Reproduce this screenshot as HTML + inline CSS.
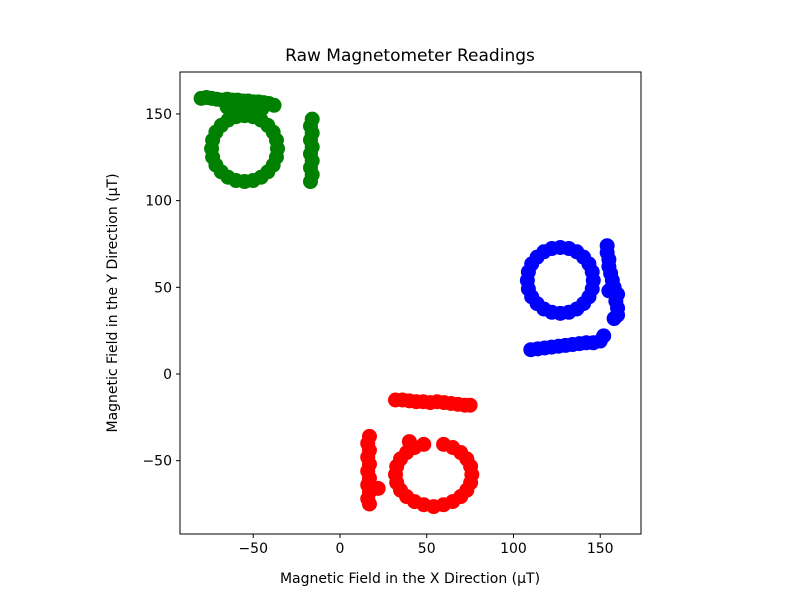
<!DOCTYPE html>
<html><head><meta charset="utf-8"><style>
html,body{margin:0;padding:0;background:#fff;}
svg text{font-family:"DejaVu Sans","Liberation Sans",sans-serif;fill:#000;}
</style></head><body>
<svg id="chart" width="800" height="600" xmlns="http://www.w3.org/2000/svg">
<rect width="800" height="600" fill="#fff"/>
<g id="marks"></g>
<g id="axes"></g>
</svg>
<script>
const xTicks = [-50, 0, 50, 100, 150];
const yTicks = [-50, 0, 50, 100, 150];
const greenX = [-36,-36.6,-38.5,-41.6,-45.5,-50.1,-55,-59.9,-64.5,-68.4,-71.5,-73.4,-74,-73.4,-71.5,-68.4,-64.5,-59.9,-55,-50.1,-45.5,-41.6,-38.5,-36.6,
 -80,-77,-74,-71,-68,-65,-62,-59,-56,-53,-50,-47,-44,-41,-38,-65,-60,-55,-50,-45,
 -16,-17,-16,-17,-16,-17,-16,-17,-16,-17];
const greenY = [130,134.9,139.5,143.4,146.5,148.4,149,148.4,146.5,143.4,139.5,134.9,130,125.1,120.5,116.6,113.5,111.6,111,111.6,113.5,116.6,120.5,125.1,
 159,159.5,159,158.5,158,158.5,158,158,157.5,157.5,157,157,156.5,156,155,154,153,153,153,153,
 147,143,139,135,131,127,123,119,115,111];
const blueX = [146,145.4,143.5,140.4,136.5,131.9,127,122.1,117.5,113.6,110.5,108.6,108,108.6,110.5,113.6,117.5,122.1,127,131.9,136.5,140.4,143.5,145.4,
 110,114,118,122,126,130,134,138,142,146,150,152,
 154,154,155,155,156,157,158,160,159,160,160,158,155];
const blueY = [54,58.9,63.5,67.4,70.5,72.4,73,72.4,70.5,67.4,63.5,58.9,54,49.1,44.5,40.6,37.5,35.6,35,35.6,37.5,40.6,44.5,49.1,
 14,14.5,15,15.5,16,16.5,17,17.5,18,18,19,22,
 74,70,66,62,58,54,50,46,42,38,34,32,48];
const redX = [76,75.3,73.1,69.6,65,59.7,48.3,43,38.4,34.9,32.7,32,32.7,34.9,38.4,43,48.3,54,59.7,65,69.6,73.1,75.3,40,
 32,36,40,44,48,52,56,60,64,68,72,75,
 17,16,17,16,17,16,17,16,17,16,17,22];
const redY = [-58,-53.3,-49,-45.3,-42.4,-40.6,-40.6,-42.4,-45.3,-49,-53.3,-58,-62.7,-67,-70.7,-73.6,-75.4,-76.5,-75.4,-73.6,-70.7,-67,-62.7,-39,
 -15,-15,-15.5,-16,-16,-16.5,-16,-16.5,-17,-17.5,-18,-18,
 -36,-40,-44,-48,-52,-56,-60,-64,-68,-72,-75,-66];

const L=180,R=641,T=72,B=534;
const xMin=-92.2,xMax=173.5,yMin=-92.3,yMax=174.2;
function sx(v){return L+(v-xMin)/(xMax-xMin)*(R-L);}
function sy(v){return B-(v-yMin)/(yMax-yMin)*(B-T);}
const NS="http://www.w3.org/2000/svg";
function mk(tag,attrs,parent){const e=document.createElementNS(NS,tag);for(const k in attrs)e.setAttribute(k,attrs[k]);parent.appendChild(e);return e;}
const marks=document.getElementById('marks');
function series(xs,ys,color,name){
  const g=mk('g',{},marks);
  
  
  for(let i=0;i<xs.length;i++){
    const c=mk('circle',{cx:sx(xs[i]),cy:sy(ys[i]),r:7.5,fill:color},g);
    
    
  }
}
series(greenX,greenY,'#008000','green');
series(blueX,blueY,'#0000ff','blue');
series(redX,redY,'#ff0000','red');

const axes=document.getElementById('axes');
const frame=mk('rect',{x:L,y:T,width:R-L,height:B-T,fill:'none',stroke:'#000','stroke-width':1},axes);


xTicks.forEach(v=>{
  const x=sx(v);
  const t=mk('line',{x1:x,x2:x,y1:B,y2:B+4,stroke:'#000'},axes);
  
  
  const tx=mk('text',{x:x,y:B+19,'text-anchor':'middle','font-size':14},axes);
  tx.textContent=v<0?'\u2212'+Math.abs(v):String(v);
  
  
});
yTicks.forEach(v=>{
  const y=sy(v);
  const t=mk('line',{x1:L-4,x2:L,y1:y,y2:y,stroke:'#000'},axes);
  
  
  const tx=mk('text',{x:L-8,y:y+5,'text-anchor':'end','font-size':14},axes);
  tx.textContent=v<0?'\u2212'+Math.abs(v):String(v);
  
  
});
</script>
<svg style="position:absolute;left:0;top:0" width="800" height="600">
<text x="410" y="61" text-anchor="middle" font-size="17">Raw Magnetometer Readings</text>
<text x="410" y="583" text-anchor="middle" font-size="14">Magnetic Field in the X Direction (µT)</text>
<text x="0" y="0" transform="translate(117,303) rotate(-90)" text-anchor="middle" font-size="14">Magnetic Field in the Y Direction (µT)</text>
</svg>
</body></html>
